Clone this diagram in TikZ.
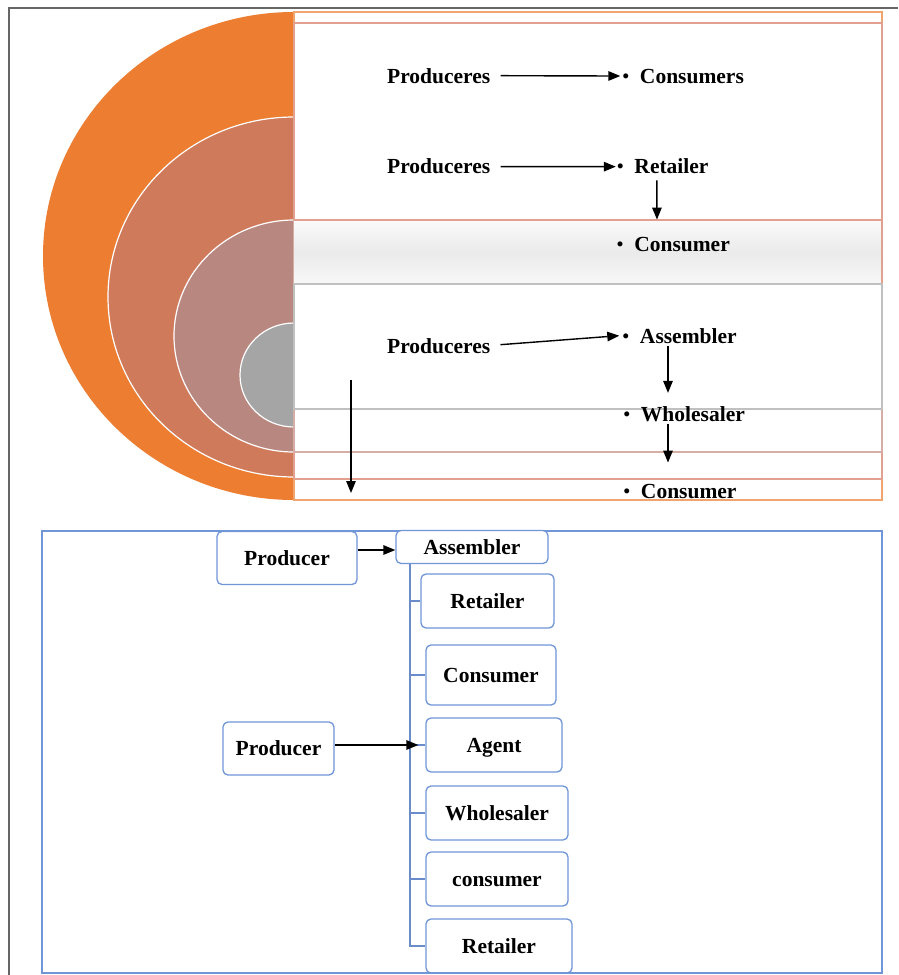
\documentclass[tikz,border=0pt]{standalone}
\usepackage{fontspec}
\setmainfont{Liberation Serif}
\usetikzlibrary{arrows.meta,calc}
\definecolor{corange}{HTML}{ED7D31}
\definecolor{csalmon}{HTML}{D07A5C}
\definecolor{cmauve}{HTML}{B8877F}
\definecolor{cgray}{HTML}{A5A5A5}
\definecolor{lorange}{HTML}{F2A46E}
\definecolor{lsalmon}{HTML}{E2A18E}
\definecolor{lmauve}{HTML}{D6ACA6}
\definecolor{lgray}{HTML}{C0C0C0}
\definecolor{cblue}{HTML}{7096D8}
\definecolor{tblue}{HTML}{6A8CCB}
\tikzset{
  lbl/.style={inner sep=0pt, anchor=base west, font=\fontsize{21.5}{25}\selectfont\bfseries},
  arr/.style={-{Triangle[length=12pt,width=9.5pt]}, line width=1.4pt, black},
  bx/.style={draw=cblue, line width=1.3pt, rounded corners=5pt, fill=white, inner sep=0pt,
     text height=14pt, text depth=0pt, font=\fontsize{21.5}{25}\selectfont\bfseries},
  trunk/.style={draw=tblue, line width=1.8pt},
}
\newcommand{\bul}{\hspace{1pt}\raisebox{1pt}{\fontsize{18.5}{18.5}\selectfont\textbullet}\hspace{11pt}}
\begin{document}
\begin{tikzpicture}[x=1pt,y=-1pt]
\useasboundingbox (0,0) rectangle (898,975);
% outer frame
\draw[color=black!60, line width=1.5pt] (9,975) -- (9,8) -- (898,8);
% semicircles
\begin{scope}
\clip (0,0) rectangle (294,975);
\fill[corange] (294,256) ellipse [x radius=251, y radius=244];
\filldraw[fill=csalmon, draw=white, line width=1.2pt] (294,297) ellipse [x radius=186, y radius=180];
\filldraw[fill=cmauve, draw=white, line width=1.2pt] (294,336) ellipse [x radius=120, y radius=116];
\filldraw[fill=cgray, draw=white, line width=1.2pt] (294,375) ellipse [x radius=54, y radius=52];
\end{scope}
% nested rectangles
\filldraw[fill=white, draw=lorange, line width=1.2pt] (294,12) rectangle (882,500);
\filldraw[fill=white, draw=lsalmon, line width=1.2pt] (294,23) rectangle (882,479);
\filldraw[fill=white, draw=lmauve, line width=1.2pt] (294,220) rectangle (882,452);
\shade[top color=gray!4, bottom color=gray!6, middle color=gray!16] (294.6,220.6) rectangle (881.4,283.4);
\draw[lsalmon, line width=1.2pt] (294,220) -- (882,220) -- (882,284);
\filldraw[fill=white, draw=lgray, line width=1.2pt] (294,284) rectangle (882,409);
% top labels
\node[lbl] (p1) at (387,83) {Produceres};
\node[lbl] (c1) at (621.3,83) {\bul Consumers};
\node[lbl] (p2) at (387,173) {Produceres};
\node[lbl] (c2) at (615.8,173) {\bul Retailer};
\node[lbl] (c3) at (615.6,251) {\bul Consumer};
\node[lbl] (p3) at (387,353) {Produceres};
\node[lbl] (c4) at (621.3,343) {\bul Assembler};
\node[lbl] (c5) at (622.3,421) {\bul Wholesaler};
\node[lbl] (c6) at (622.3,498) {\bul Consumer};
\draw[arr] ([xshift=10pt]p1.east) -- ([xshift=-1pt]c1.west);
\draw[arr] ([xshift=10pt,yshift=-1pt]p2.east) -- ([xshift=0pt,yshift=-1pt]c2.west);
\draw[arr] ([xshift=10pt,yshift=1pt]p3.east) -- ([xshift=-2pt]c4.west);
\draw[arr] ([shift={(41,7)}]c2.south west) -- ([shift={(41.4,-17)}]c3.north west);
\draw[arr] ([shift={(46.7,3)}]c4.south west) -- ([shift={(45.7,-13)}]c5.north west);
\draw[arr] ([shift={(45.7,2)}]c5.south west) -- ([shift={(45.7,-21)}]c6.north west);
\coordinate (la1) at (351,380);
\coordinate (la2) at (351,493);
\draw[arr] (la1) -- (la2);
% lower part
\draw[cblue, line width=1.5pt] (42,531) rectangle (882,973);
\node[bx, minimum width=140pt, minimum height=53pt] (prod1) at (287,558) {Producer};
\node[bx, minimum width=152pt, minimum height=33pt] (asm) at (472,547) {Assembler};
\node[bx, minimum width=133pt, minimum height=54pt] (ret1) at (487.5,601) {Retailer};
\node[bx, minimum width=130pt, minimum height=60pt] (cons) at (491,675) {Consumer};
\node[bx, minimum width=136pt, minimum height=54pt] (agent) at (494,745) {Agent};
\node[bx, minimum width=142pt, minimum height=54pt] (wh) at (497,813) {Wholesaler};
\node[bx, minimum width=142pt, minimum height=54pt] (cons2) at (497,879) {consumer};
\node[bx, minimum width=146pt, minimum height=54pt] (ret2) at (499,946) {Retailer};
\node[bx, minimum width=111pt, minimum height=53pt] (prod2) at (278.5,748.5) {Producer};
\coordinate (tr) at ([xshift=15pt]asm.south west);
\draw[trunk] (tr) |- (ret2.west);
\foreach \n in {ret1,cons,agent,wh,cons2} \draw[trunk] (tr |- \n.west) -- (\n.west);
\draw[cblue, line width=1.5pt] (42,973) -- (882,973);
\draw[arr] ([yshift=8pt]prod1.east) -- ([yshift=-3pt]asm.west);
\draw[arr] (prod2.east |- agent.west) -- ($(tr |- agent.west)+(8,0)$);
\end{tikzpicture}
\end{document}
